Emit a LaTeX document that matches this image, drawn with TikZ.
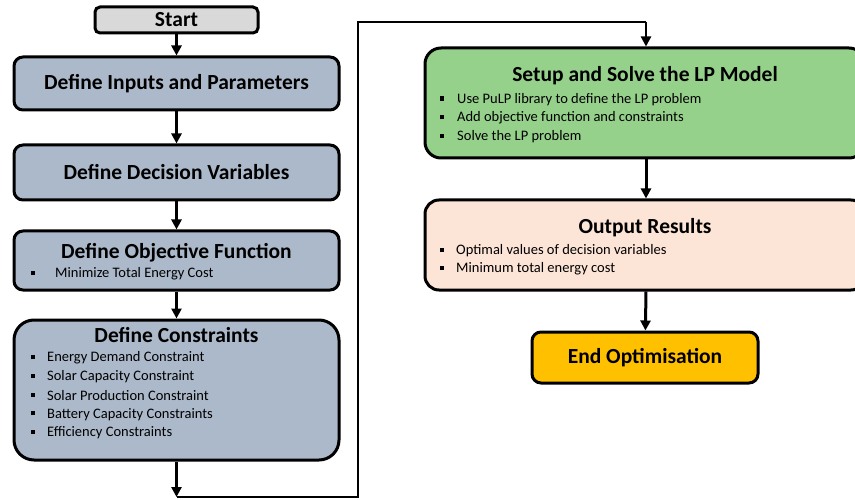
\documentclass[tikz,border=0pt]{standalone}
\usepackage{fontspec}
\setmainfont{Carlito}
\usetikzlibrary{arrows.meta}

\definecolor{startgray}{HTML}{D9D9D9}
\definecolor{stepblue}{HTML}{ACB9CA}
\definecolor{solvegreen}{HTML}{96D18B}
\definecolor{outpeach}{HTML}{FCE4D6}
\definecolor{endgold}{HTML}{FFC000}

\newcommand{\sqbul}{\raisebox{2pt}{\rule{4.2pt}{4.2pt}}}

\tikzset{
  stepbox/.style={draw=black, line width=3pt, rounded corners=9pt, inner sep=0pt},
  title/.style={font=\bfseries\fontsize{21.5}{24}\selectfont},
  item/.style={anchor=west, inner sep=0pt, font=\fontsize{14.5}{16}\selectfont},
  flow/.style={line width=3pt, -{Triangle[length=10pt, width=10pt]}},
  loop/.style={line width=2.2pt}
}

\begin{document}
\begin{tikzpicture}[x=1pt, y=-1pt]
      \useasboundingbox (0,0) rectangle (855,500);

      % left column
      \node[stepbox, fill=startgray, minimum width=163pt, minimum height=26pt, rounded corners=5pt] (start) at (176.5,20) {};
      \node[title] at (start) {Start};

      \node[stepbox, fill=stepblue, minimum width=325pt, minimum height=53pt] (inputs) at (176.5,83.5) {};
      \node[title] at (inputs) {Define Inputs and Parameters};

      \node[stepbox, fill=stepblue, minimum width=325pt, minimum height=55pt] (vars) at (176.5,172.5) {};
      \node[title] at (vars) {Define Decision Variables};

      \node[stepbox, fill=stepblue, minimum width=325pt, minimum height=59pt] (obj) at (176.5,260.5) {};
      \node[title] at (176.5,253) {Define Objective Function};
      \node[item] at (31,274) {\sqbul};
      \node[item] at (55,274) {Minimize Total Energy Cost};

      \node[stepbox, fill=stepblue, minimum width=325pt, minimum height=140pt, rounded corners=20pt] (cons) at (176.5,390) {};
      \node[title] at (176.5,335) {Define Constraints};
      \foreach \txt [count=\i] in {Energy Demand Constraint, Solar Capacity Constraint,
          Solar Production Constraint, Battery Capacity Constraints, Efficiency Constraints} {
        \node[item] at (31,339.5+18.7*\i) {\sqbul};
        \node[item] at (47,339.5+18.7*\i) {\txt};
      }

      % right column
      \node[stepbox, fill=solvegreen, minimum width=440pt, minimum height=110pt, rounded corners=16pt] (solve) at (645,103) {};
      \node[title] at (645,76) {Setup and Solve the LP Model};
      \foreach \txt [count=\i] in {Use PuLP library to define the LP problem,
          Add objective function and constraints, Solve the LP problem} {
        \node[item] at (440,81+18.6*\i) {\sqbul};
        \node[item] at (457,81+18.6*\i) {\txt};
      }

      \node[stepbox, fill=outpeach, minimum width=440pt, minimum height=90pt, rounded corners=14pt] (output) at (645,245) {};
      \node[title] at (645,228) {Output Results};
      \node[item] at (440,251) {\sqbul};
      \node[item] at (456,251) {Optimal values of decision variables};
      \node[item] at (440,269) {\sqbul};
      \node[item] at (456,269) {Minimum total energy cost};

      \node[stepbox, fill=endgold, minimum width=226pt, minimum height=51pt] (finish) at (645,357.5) {};
      \node[title] at (finish) {End Optimisation};

      % connectors
      \coordinate (down) at (176.5,497);
      \coordinate (up) at (358,497);
      \coordinate (top) at (358,22);
      \coordinate (over) at (646,22);

      \draw[flow] (start) -- (inputs);
      \draw[flow] (inputs) -- (vars);
      \draw[flow] (vars) -- (obj);
      \draw[flow] (obj) -- (cons);
      \draw[flow] (cons) -- (down);
      \draw[loop] (down) -- (up) -- (top) -- (over);
      \draw[flow, line width=2.2pt] (over) -- (over |- solve.north);
      \draw[flow] (solve.south -| over) -- (output.north -| over);
      \draw[flow] (output.south -| over) -- (finish);
\end{tikzpicture}
\end{document}
